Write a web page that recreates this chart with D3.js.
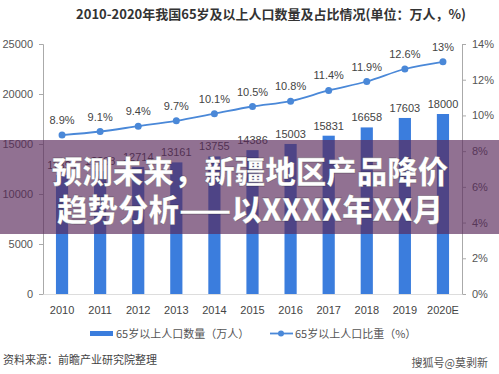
<!DOCTYPE html>
<html>
<head>
<meta charset="utf-8">
<script src="https://cdn.jsdelivr.net/npm/d3@7"></script>
<style>
  body { margin: 0; background: #fff; }
  svg { display: block; font-family: "Noto Sans CJK SC", "Noto Sans", sans-serif; }
</style>
</head>
<body>
<div id="chart"></div>
<script>
// data
const years = ["2010", "2011", "2012", "2013", "2014", "2015", "2016", "2017", "2018", "2019", "2020E"];
const population = [11894, 12288, 12714, 13161, 13755, 14386, 15003, 15831, 16658, 17603, 18000];
const share = [8.9, 9.1, 9.4, 9.7, 10.1, 10.5, 10.8, 11.4, 11.9, 12.6, 13];
const leftTicks = [0, 5000, 10000, 15000, 20000, 25000];
const rightTicks = [0, 2, 4, 6, 8, 10, 12, 14];

var width = 499
var height = 374
// plot box (note: "top" clashes with window.top, so use plot* names)
var plotLeft = 43, plotRight = 462, plotTop = 44, plotBottom = 294

var barColor = "#3b7ddd"
var lineColor = "#4a88d8"
var axisColor = "#aaa"

var svg = d3.select("#chart").append("svg")
  .attr("width", width)
  .attr("height", height)

var x = d3.scaleBand().domain(years).range([plotLeft, plotRight]).paddingInner(0.68).paddingOuter(0.34)
var y = d3.scaleLinear().domain([0, 25000]).range([plotBottom, plotTop])
var y2 = d3.scaleLinear().domain([0, 14]).range([plotBottom, plotTop])

// title
svg.append("text")
  .attr("x", 271).attr("y", 19)
  .attr("text-anchor", "middle")
  .attr("font-size", 13)
  .attr("font-weight", "bold")
  .attr("fill", "#333")
  .text("2010-2020年我国65岁及以上人口数量及占比情况(单位：万人，%)")

// left axis
var gl = svg.append("g").attr("transform", "translate(" + plotLeft + ",0)")
  .call(d3.axisLeft(y).tickValues(leftTicks).tickSize(4).tickPadding(6).tickFormat(d3.format("d")))
gl.select(".domain").attr("stroke", axisColor)
gl.selectAll(".tick line").attr("stroke", axisColor)
gl.selectAll("text").attr("fill", "#555").attr("font-size", 11).attr("font-family", "Liberation Sans, sans-serif")

// right axis
var gr = svg.append("g").attr("transform", "translate(" + plotRight + ",0)")
  .call(d3.axisRight(y2).tickValues(rightTicks).tickSize(4).tickPadding(6).tickFormat(d => d + "%"))
gr.select(".domain").attr("stroke", axisColor)
gr.selectAll(".tick line").attr("stroke", axisColor)
gr.selectAll("text").attr("fill", "#555").attr("font-size", 11).attr("font-family", "Liberation Sans, sans-serif")

// bottom axis
var gb = svg.append("g").attr("transform", "translate(0," + plotBottom + ")")
  .call(d3.axisBottom(x).tickSize(0).tickPadding(12))
gb.select(".domain").attr("stroke", "#ddd")
gb.selectAll("text").attr("fill", "#444").attr("font-size", 11).attr("font-family", "Liberation Sans, sans-serif")

// bars
svg.selectAll(".bar")
  .data(years)
  .enter().append("rect")
  .attr("class", "bar")
  .attr("x", d => x(d))
  .attr("width", x.bandwidth())
  .attr("y", (d, i) => y(population[i]))
  .attr("height", (d, i) => plotBottom - y(population[i]))
  .attr("fill", barColor)

svg.selectAll(".barlabel")
  .data(years)
  .enter().append("text")
  .attr("class", "barlabel")
  .attr("x", d => x(d) + x.bandwidth() / 2)
  .attr("y", (d, i) => y(population[i]) - 6)
  .attr("text-anchor", "middle")
  .attr("font-size", 11)
  .attr("font-family", "Liberation Sans, sans-serif")
  .attr("fill", "#444")
  .text((d, i) => population[i])

// line
var line = d3.line()
  .x((d, i) => x(years[i]) + x.bandwidth() / 2)
  .y(d => y2(d))
  .curve(d3.curveMonotoneX)

svg.append("path")
  .datum(share)
  .attr("d", line)
  .attr("fill", "none")
  .attr("stroke", lineColor)
  .attr("stroke-width", 1.8)

svg.selectAll(".dot")
  .data(share)
  .enter().append("circle")
  .attr("cx", (d, i) => x(years[i]) + x.bandwidth() / 2)
  .attr("cy", d => y2(d))
  .attr("r", 3.5)
  .attr("fill", lineColor)

svg.selectAll(".dotlabel")
  .data(share)
  .enter().append("text")
  .attr("x", (d, i) => x(years[i]) + x.bandwidth() / 2)
  .attr("y", d => y2(d) - 11)
  .attr("text-anchor", "middle")
  .attr("font-size", 11)
  .attr("font-family", "Liberation Sans, sans-serif")
  .attr("fill", "#444")
  .text(d => d + "%")

// legend
svg.append("rect").attr("x", 90).attr("y", 331).attr("width", 23).attr("height", 5).attr("fill", barColor)
svg.append("text").attr("x", 116).attr("y", 338).attr("font-size", 11).attr("fill", "#555")
  .text("65岁以上人口数量（万人）")
svg.append("line").attr("x1", 270).attr("x2", 293).attr("y1", 333.5).attr("y2", 333.5)
  .attr("stroke", lineColor).attr("stroke-width", 1.8)
svg.append("circle").attr("cx", 281).attr("cy", 333.5).attr("r", 3).attr("fill", lineColor)
svg.append("text").attr("x", 295).attr("y", 338).attr("font-size", 11).attr("fill", "#555")
  .text("65岁以上人口比重（%）")

// source + watermark
svg.append("text").attr("x", 3).attr("y", 364).attr("font-size", 11).attr("fill", "#444")
  .text("资料来源：前瞻产业研究院整理")
svg.append("text").attr("x", 488).attr("y", 367).attr("text-anchor", "end").attr("font-size", 11).attr("fill", "#555")
  .text("搜狐号@莫剥新")

// overlay band with headline
svg.append("rect").attr("x", 0).attr("y", 140).attr("width", width).attr("height", 94)
  .attr("fill", "rgb(88,40,90)").attr("opacity", 0.66)

var head = ["预测未来，新疆地区产品降价", "趋势分析——以XXXX年XX月"]
svg.selectAll(".head")
  .data(head)
  .enter().append("text")
  .attr("x", 250)
  .attr("y", (d, i) => 183 + i * 38)
  .attr("text-anchor", "middle")
  .attr("font-size", 30.5)
  .attr("font-weight", 900)
  .attr("fill", "#fff")
  .attr("stroke", "rgba(0,0,0,0.25)")
  .attr("stroke-width", 0.8)
  .text(d => d)
</script>
</body>
</html>
